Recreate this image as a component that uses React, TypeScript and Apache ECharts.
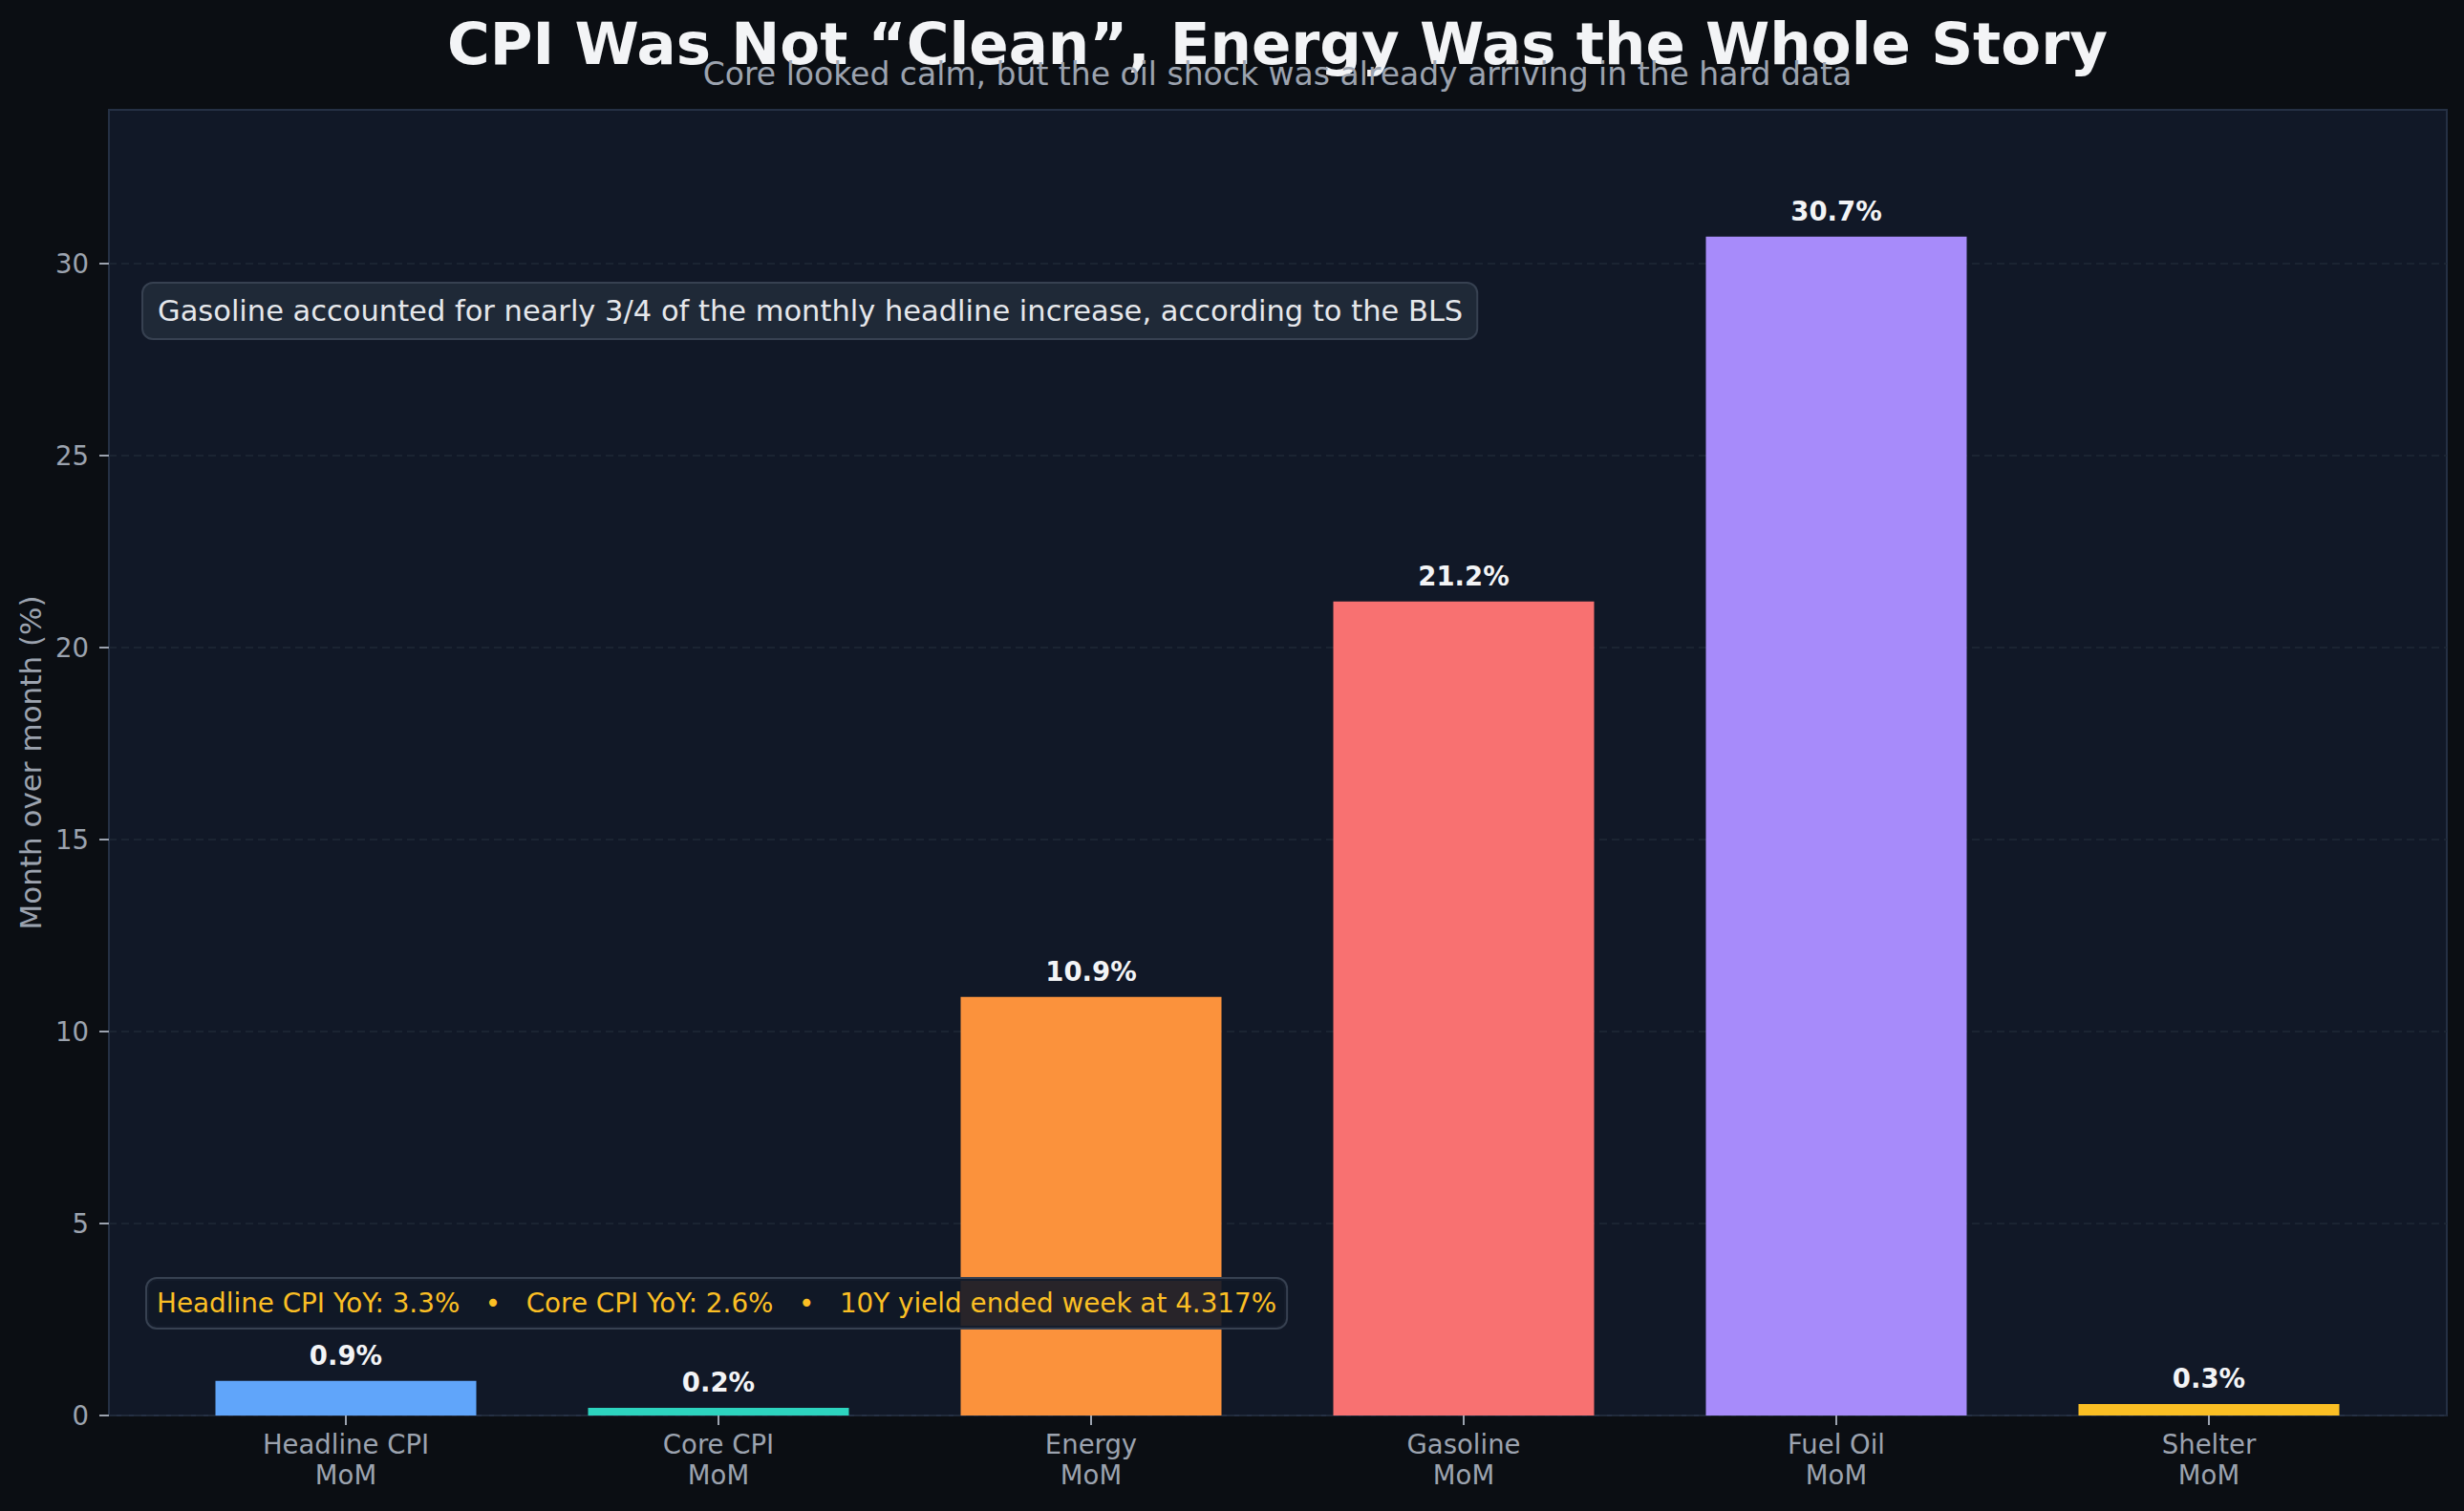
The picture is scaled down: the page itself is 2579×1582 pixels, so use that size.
import React, { useEffect, useRef } from "react";
import * as echarts from "echarts";

const categories = [
  "Headline CPI\nMoM",
  "Core CPI\nMoM",
  "Energy\nMoM",
  "Gasoline\nMoM",
  "Fuel Oil\nMoM",
  "Shelter\nMoM",
];
const values = [0.9, 0.2, 10.9, 21.2, 30.7, 0.3];
const barColors = ["#60a5fa", "#2dd4bf", "#fb923c", "#f87171", "#a78bfa", "#fbbf24"];
const yTickValues = [0, 5, 10, 15, 20, 25, 30];
const yMin = 0;
const yMax = 34;
const yAxisName = "Month over month (%)";
const titleText = "CPI Was Not \u201cClean\u201d, Energy Was the Whole Story";
const subtitleText = "Core looked calm, but the oil shock was already arriving in the hard data";
const noteTop = "Gasoline accounted for nearly 3/4 of the monthly headline increase, according to the BLS";
const noteBottom =
  "Headline CPI YoY: 3.3%   \u2022   Core CPI YoY: 2.6%   \u2022   10Y yield ended week at 4.317%";

const FONT = "DejaVu Sans";

export default function App() {
  const ref = useRef<HTMLDivElement>(null);

  useEffect(() => {
    if (!ref.current) return;
    const chart = echarts.init(ref.current, null, { renderer: "svg" });
    chart.setOption({
      animation: false,
      backgroundColor: "#0b0e13",
      textStyle: { fontFamily: FONT },
      grid: [
        {
          left: 114,
          right: 18,
          top: 115,
          bottom: 100,
          show: true,
          backgroundColor: "#111827",
          borderColor: "#253044",
          borderWidth: 2,
        },
        { left: 167, right: 72, top: 115, bottom: 100 },
      ],
      xAxis: [
        { gridIndex: 0, type: "value", min: 0, max: 1, show: false },
        {
          gridIndex: 1,
          type: "category",
          data: categories,
          axisLine: { show: false },
          axisTick: {
            show: true,
            alignWithLabel: true,
            length: 10,
            lineStyle: { color: "#9ca3af", width: 2 },
          },
          axisLabel: {
            color: "#9ca3af",
            fontSize: 27.5,
            lineHeight: 32,
            margin: 14,
            fontFamily: FONT,
          },
          splitLine: { show: false },
        },
      ],
      yAxis: [
        {
          gridIndex: 0,
          type: "value",
          min: yMin,
          max: yMax,
          interval: 5,
          axisLine: { show: false },
          axisTick: {
            show: true,
            length: 10,
            customValues: yTickValues,
            lineStyle: { color: "#9ca3af", width: 2 },
          },
          axisLabel: {
            color: "#9ca3af",
            fontSize: 27.5,
            margin: 21,
            fontFamily: FONT,
            customValues: yTickValues,
          },
          splitLine: {
            show: true,
            lineStyle: { color: "#1f2937", width: 1.5, type: [8, 5] },
          },
          name: yAxisName,
          nameLocation: "middle",
          nameGap: 67,
          nameTextStyle: { color: "#9ca3af", fontSize: 31, fontFamily: FONT },
        },
        { gridIndex: 1, type: "value", min: yMin, max: yMax, show: false },
      ],
      series: [
        {
          type: "bar",
          xAxisIndex: 1,
          yAxisIndex: 1,
          barWidth: "70%",
          data: values.map((v, i) => ({ value: v, itemStyle: { color: barColors[i] } })),
          label: {
            show: true,
            position: "top",
            distance: 13,
            color: "#f3f4f6",
            fontWeight: "bold",
            fontSize: 27.5,
            fontFamily: FONT,
            formatter: (p: any) => Number(p.value).toFixed(1) + "%",
          },
        },
      ],
      graphic: [
        {
          type: "text",
          z: 100,
          x: 1337,
          y: 45,
          style: {
            text: titleText,
            fill: "#f3f4f6",
            font: `bold 61px "${FONT}"`,
            align: "center",
            verticalAlign: "middle",
          },
        },
        {
          type: "text",
          z: 100,
          x: 1337,
          y: 77,
          style: {
            text: subtitleText,
            fill: "#9ca3af",
            font: `33px "${FONT}"`,
            align: "center",
            verticalAlign: "middle",
          },
        },
        {
          type: "text",
          z: 100,
          x: 150,
          y: 297,
          style: {
            text: noteTop,
            fill: "#e5e7eb",
            font: `30.5px "${FONT}"`,
            align: "left",
            verticalAlign: "top",
            lineHeight: 35,
            padding: [11, 14, 11, 15],
            backgroundColor: "#1f2937",
            borderColor: "#374151",
            borderWidth: 2,
            borderRadius: 10,
          },
        },
        {
          type: "text",
          z: 100,
          x: 154,
          y: 1339,
          style: {
            text: noteBottom,
            fill: "#fbbf24",
            font: `27.8px "${FONT}"`,
            align: "left",
            verticalAlign: "top",
            lineHeight: 31,
            padding: [10, 10, 10, 10],
            backgroundColor: "rgba(17,24,39,0.9)",
            borderColor: "#374151",
            borderWidth: 2,
            borderRadius: 10,
          },
        },
      ],
    });
    return () => chart.dispose();
  }, []);

  return (
    <div
      ref={ref}
      style={{ position: "absolute", left: 0, top: 0, width: 2579, height: 1582 }}
    />
  );
}
